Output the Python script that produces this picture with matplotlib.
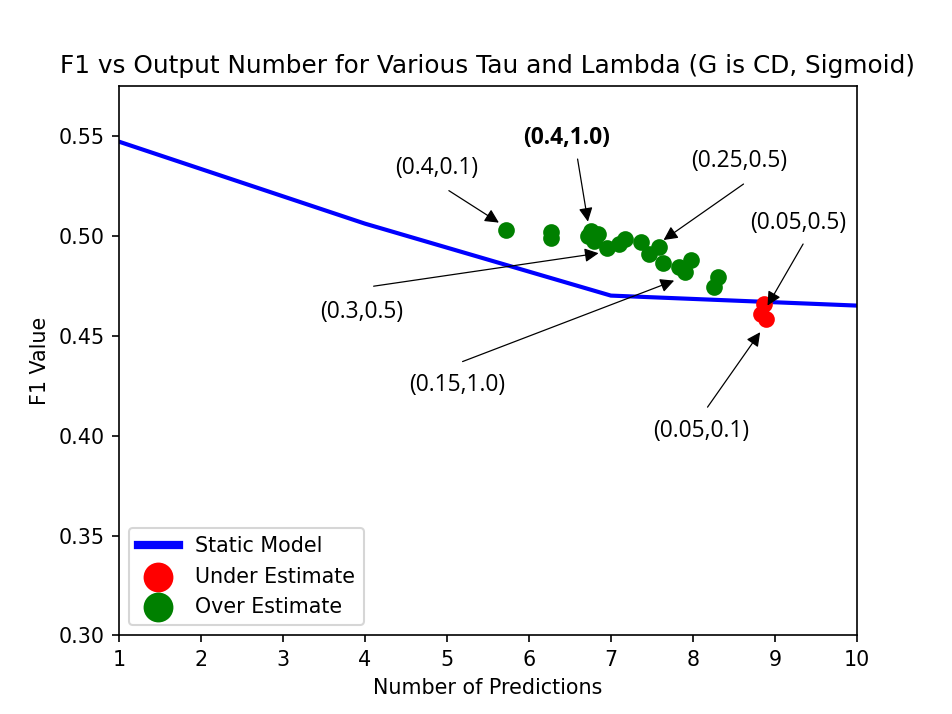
import numpy as np
import matplotlib
matplotlib.use("Agg")
import matplotlib.pyplot as plt

# static model curve
static_x = [1, 4, 7, 10]
static_y = [0.547, 0.506, 0.470, 0.465]

# under estimate points (red)
under_x = [8.87, 8.83, 8.89]
under_y = [0.4658, 0.4608, 0.4583]

# over estimate points (green)
over_x = [5.72, 6.27, 6.27, 6.76, 6.72, 6.84, 6.79, 6.95, 7.10, 7.17,
          7.37, 7.47, 7.59, 7.63, 7.83, 7.91, 7.98, 8.26, 8.31]
over_y = [0.5029, 0.5017, 0.4989, 0.5025, 0.5000, 0.5008, 0.4975, 0.4937, 0.4958, 0.4983,
          0.4967, 0.4908, 0.4945, 0.4862, 0.4845, 0.4817, 0.4880, 0.4745, 0.4792]

# (tau, lambda) labels, where they sit, and arrow tail -> head
ann_labels = ["(0.4,0.1)", "(0.4,1.0)", "(0.25,0.5)", "(0.05,0.5)",
              "(0.05,0.1)", "(0.3,0.5)", "(0.15,1.0)"]
ann_text = [(4.87, 0.534), (6.46, 0.549), (8.56, 0.5375), (9.28, 0.5065),
            (8.10, 0.4025), (3.96, 0.462), (5.12, 0.4255)]
ann_tail = [(5.024, 0.5225), (6.594, 0.5383), (8.618, 0.5258), (9.345, 0.4958),
            (8.179, 0.4142), (4.106, 0.4747), (5.191, 0.4370)]
ann_head = [(5.634, 0.5065), (6.720, 0.5070), (7.643, 0.4978), (8.911, 0.4650),
            (8.821, 0.4517), (6.850, 0.4912), (7.772, 0.4775)]
ann_bold = [False, True, False, False, False, False, False]

fig, ax = plt.subplots(figsize=(6.4, 4.8), dpi=148.75)

ax.plot(static_x, static_y, c='blue', lw=2, label='Static Model')
ax.scatter(under_x, under_y, c='red', s=50, label='Under Estimate', zorder=3)
ax.scatter(over_x, over_y, c='green', s=50, label='Over Estimate', zorder=3)

for lab, txt, tail, head, b in zip(ann_labels, ann_text, ann_tail, ann_head, ann_bold):
    ax.text(txt[0], txt[1], lab, ha='center', va='center', fontsize=11,
            family='Open Sans', weight='bold' if b else 'normal')
    ax.annotate('', xy=head, xytext=tail,
                arrowprops=dict(arrowstyle='-|>', color='black', lw=0.6,
                                mutation_scale=14, shrinkA=0, shrinkB=0),
                zorder=4)

ax.set_xlim(1, 10)
ax.set_ylim(0.3, 0.575)
ax.set_xlabel('Number of Predictions')
ax.set_ylabel('F1 Value')
ax.set_title('F1 vs Output Number for Various Tau and Lambda (G is CD, Sigmoid)')

leg = ax.legend(loc='lower left', markerscale=1.9)
leg.legend_handles[0].set_linewidth(4)

fig.savefig('out.png')
